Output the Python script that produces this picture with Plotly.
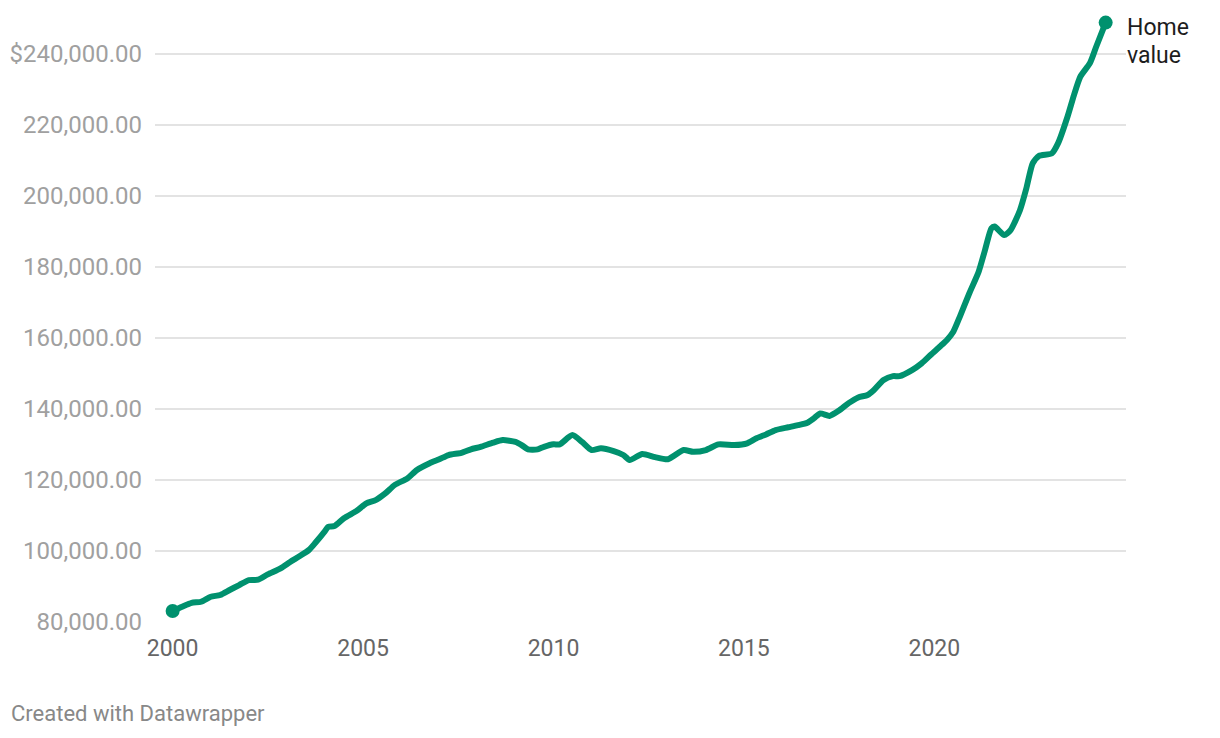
import plotly.graph_objects as go

dates = [
    "2000-01", "2000-04", "2000-07", "2000-10", "2001-01", "2001-04", "2001-07", "2001-10",
    "2002-01", "2002-04", "2002-07", "2002-11", "2003-02", "2003-05", "2003-08", "2003-10",
    "2004-01", "2004-02", "2004-04", "2004-07", "2004-11", "2005-02", "2005-05", "2005-08",
    "2005-11", "2006-03", "2006-06", "2006-10", "2007-01", "2007-04", "2007-08", "2007-11",
    "2008-02", "2008-06", "2008-09", "2009-01", "2009-03", "2009-05", "2009-08", "2009-10",
    "2010-01", "2010-03", "2010-07", "2010-10", "2011-01", "2011-04", "2011-08", "2011-11",
    "2012-01", "2012-05", "2012-09", "2013-01", "2013-06", "2013-09", "2014-01", "2014-05",
    "2014-10", "2015-02", "2015-05", "2015-08", "2015-11", "2016-03", "2016-06", "2016-09",
    "2016-11", "2017-01", "2017-04", "2017-07", "2017-10", "2018-01", "2018-04", "2018-06",
    "2018-09", "2018-12", "2019-02", "2019-06", "2019-09", "2019-12", "2020-03", "2020-05",
    "2020-07", "2020-09", "2020-12", "2021-03", "2021-05", "2021-07", "2021-08", "2021-11",
    "2022-01", "2022-04", "2022-06", "2022-08", "2022-10", "2023-02", "2023-04", "2023-07",
    "2023-09", "2023-11", "2024-02", "2024-04", "2024-07",
]
home_value = [
    83100, 84300, 85400, 85700, 87100, 87600, 89000, 90400,
    91800, 91900, 93400, 95100, 96900, 98500, 100300, 102300,
    105600, 106800, 107000, 109200, 111300, 113400, 114300, 116200,
    118600, 120400, 122800, 124700, 125800, 127000, 127600, 128600,
    129300, 130500, 131200, 130700, 129800, 128600, 128600, 129300,
    130000, 130000, 132600, 130700, 128400, 128900, 128100, 127000,
    125600, 127300, 126400, 125800, 128400, 127900, 128400, 130000,
    129800, 130300, 131700, 132800, 134000, 134800, 135400, 136100,
    137300, 138700, 138000, 139500, 141600, 143200, 143900, 145300,
    148100, 149200, 149200, 150900, 152800, 155300, 157700, 159400,
    161700, 165900, 172500, 178600, 184700, 190800, 191300, 188900,
    190300, 195900, 202000, 209100, 211200, 211900, 214700, 222200,
    228300, 233500, 237300, 241900, 248700,
]

series_name = "Home value"
y_ticks = [80000, 100000, 120000, 140000, 160000, 180000, 200000, 220000, 240000]
y_tick_labels = ["80,000.00", "100,000.00", "120,000.00", "140,000.00", "160,000.00",
                 "180,000.00", "200,000.00", "220,000.00", "$240,000.00"]
x_ticks = ["2000-01-01", "2005-01-01", "2010-01-01", "2015-01-01", "2020-01-01"]
x_tick_labels = ["2000", "2005", "2010", "2015", "2020"]

color = "#00916e"
font = "Roboto"

fig = go.Figure()
fig.add_trace(go.Scatter(
    x=dates, y=home_value, mode="lines",
    line=dict(color=color, width=6, shape="spline", smoothing=0.6),
    hoverinfo="skip", showlegend=False, cliponaxis=False,
))
fig.add_trace(go.Scatter(
    x=[dates[0], dates[-1]], y=[home_value[0], home_value[-1]], mode="markers",
    marker=dict(color=color, size=14),
    hoverinfo="skip", showlegend=False, cliponaxis=False,
))

fig.update_layout(
    width=1212, height=730,
    margin=dict(l=147, r=94, t=10, b=116),
    paper_bgcolor="white", plot_bgcolor="white",
    font=dict(family=font),
    xaxis=dict(
        type="date", range=["1999-07-16", "2025-01-12"],
        tickvals=x_ticks, ticktext=x_tick_labels, automargin=False,
        showgrid=False, zeroline=False, showline=False, ticks="",
        tickfont=dict(family=font, size=23, color="#666666"),
        ticklabelstandoff=10,
    ),
    yaxis=dict(
        range=[80000, 250000], automargin=False,
        tickvals=y_ticks, ticktext=y_tick_labels,
        showgrid=True, gridcolor="#e3e3e3", gridwidth=2,
        zeroline=False, showline=False, ticks="",
        tickfont=dict(family=font, size=24, color="#a0a0a0"),
        ticklabelstandoff=12,
    ),
    annotations=[
        dict(text="Home", xref="paper", yref="paper", x=1, y=0.985,
             xanchor="left", yanchor="middle", xshift=-1, showarrow=False,
             font=dict(family=font, size=23, color="#1d1d1d")),
        dict(text="value", xref="paper", yref="paper", x=1, y=0.9387,
             xanchor="left", yanchor="middle", xshift=-1, showarrow=False,
             font=dict(family=font, size=23, color="#1d1d1d")),
        dict(text="Created with Datawrapper", xref="paper", yref="paper",
             x=-0.1505, y=-0.152, xanchor="left", yanchor="middle",
             showarrow=False,
             font=dict(family=font, size=22, color="#888888")),
    ],
)

fig.write_html("out.html")
